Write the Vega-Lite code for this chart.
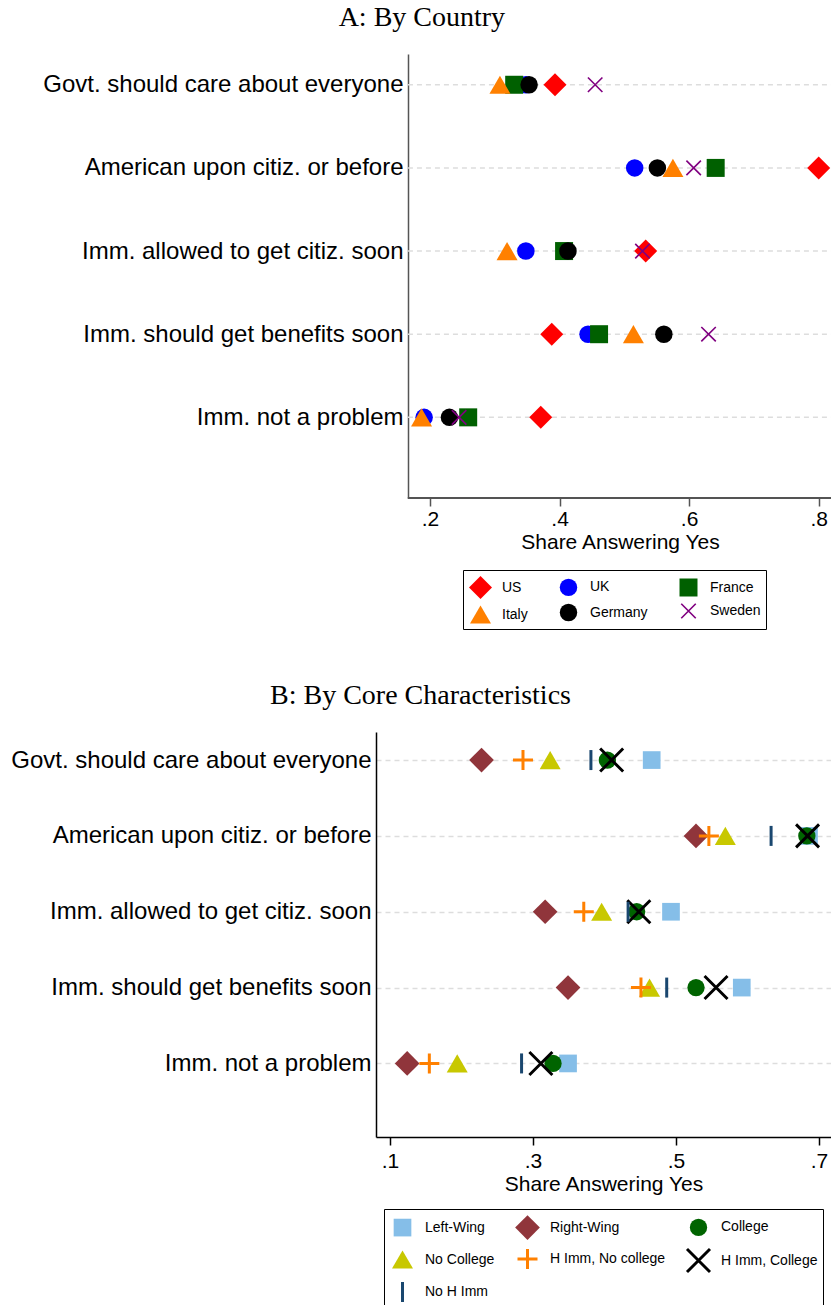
{
  "$schema": "https://vega.github.io/schema/vega-lite/v6.json",
  "background": "white",
  "padding": {"left": 10, "top": 4, "right": 0, "bottom": 0},
  "spacing": 52,
  "datasets": {
    "questions": [
      {"question": "Govt. should care about everyone", "q": 1},
      {"question": "American upon citiz. or before", "q": 2},
      {"question": "Imm. allowed to get citiz. soon", "q": 3},
      {"question": "Imm. should get benefits soon", "q": 4},
      {"question": "Imm. not a problem", "q": 5}
    ],
    "countries": [
      {"question": "Govt. should care about everyone", "q": 1, "country": "US", "share": 0.393},
      {"question": "American upon citiz. or before", "q": 2, "country": "US", "share": 0.800},
      {"question": "Imm. allowed to get citiz. soon", "q": 3, "country": "US", "share": 0.533},
      {"question": "Imm. should get benefits soon", "q": 4, "country": "US", "share": 0.388},
      {"question": "Imm. not a problem", "q": 5, "country": "US", "share": 0.371},
      {"question": "Govt. should care about everyone", "q": 1, "country": "UK", "share": 0.348},
      {"question": "American upon citiz. or before", "q": 2, "country": "UK", "share": 0.516},
      {"question": "Imm. allowed to get citiz. soon", "q": 3, "country": "UK", "share": 0.348},
      {"question": "Imm. should get benefits soon", "q": 4, "country": "UK", "share": 0.444},
      {"question": "Imm. not a problem", "q": 5, "country": "UK", "share": 0.191},
      {"question": "Govt. should care about everyone", "q": 1, "country": "France", "share": 0.330},
      {"question": "American upon citiz. or before", "q": 2, "country": "France", "share": 0.641},
      {"question": "Imm. allowed to get citiz. soon", "q": 3, "country": "France", "share": 0.407},
      {"question": "Imm. should get benefits soon", "q": 4, "country": "France", "share": 0.461},
      {"question": "Imm. not a problem", "q": 5, "country": "France", "share": 0.259},
      {"question": "Govt. should care about everyone", "q": 1, "country": "Italy", "share": 0.308},
      {"question": "American upon citiz. or before", "q": 2, "country": "Italy", "share": 0.575},
      {"question": "Imm. allowed to get citiz. soon", "q": 3, "country": "Italy", "share": 0.319},
      {"question": "Imm. should get benefits soon", "q": 4, "country": "Italy", "share": 0.514},
      {"question": "Imm. not a problem", "q": 5, "country": "Italy", "share": 0.187},
      {"question": "Govt. should care about everyone", "q": 1, "country": "Germany", "share": 0.353},
      {"question": "American upon citiz. or before", "q": 2, "country": "Germany", "share": 0.551},
      {"question": "Imm. allowed to get citiz. soon", "q": 3, "country": "Germany", "share": 0.413},
      {"question": "Imm. should get benefits soon", "q": 4, "country": "Germany", "share": 0.561},
      {"question": "Imm. not a problem", "q": 5, "country": "Germany", "share": 0.230},
      {"question": "Govt. should care about everyone", "q": 1, "country": "Sweden", "share": 0.455},
      {"question": "American upon citiz. or before", "q": 2, "country": "Sweden", "share": 0.607},
      {"question": "Imm. allowed to get citiz. soon", "q": 3, "country": "Sweden", "share": 0.528},
      {"question": "Imm. should get benefits soon", "q": 4, "country": "Sweden", "share": 0.630},
      {"question": "Imm. not a problem", "q": 5, "country": "Sweden", "share": 0.245}
    ],
    "groups": [
      {"question": "Govt. should care about everyone", "q": 1, "group": "Left-Wing", "share": 0.466},
      {"question": "American upon citiz. or before", "q": 2, "group": "Left-Wing", "share": 0.686},
      {"question": "Imm. allowed to get citiz. soon", "q": 3, "group": "Left-Wing", "share": 0.493},
      {"question": "Imm. should get benefits soon", "q": 4, "group": "Left-Wing", "share": 0.592},
      {"question": "Imm. not a problem", "q": 5, "group": "Left-Wing", "share": 0.349},
      {"question": "Govt. should care about everyone", "q": 1, "group": "Right-Wing", "share": 0.228},
      {"question": "American upon citiz. or before", "q": 2, "group": "Right-Wing", "share": 0.528},
      {"question": "Imm. allowed to get citiz. soon", "q": 3, "group": "Right-Wing", "share": 0.317},
      {"question": "Imm. should get benefits soon", "q": 4, "group": "Right-Wing", "share": 0.349},
      {"question": "Imm. not a problem", "q": 5, "group": "Right-Wing", "share": 0.124},
      {"question": "Govt. should care about everyone", "q": 1, "group": "College", "share": 0.404},
      {"question": "American upon citiz. or before", "q": 2, "group": "College", "share": 0.683},
      {"question": "Imm. allowed to get citiz. soon", "q": 3, "group": "College", "share": 0.445},
      {"question": "Imm. should get benefits soon", "q": 4, "group": "College", "share": 0.528},
      {"question": "Imm. not a problem", "q": 5, "group": "College", "share": 0.328},
      {"question": "Govt. should care about everyone", "q": 1, "group": "No College", "share": 0.324},
      {"question": "American upon citiz. or before", "q": 2, "group": "No College", "share": 0.569},
      {"question": "Imm. allowed to get citiz. soon", "q": 3, "group": "No College", "share": 0.396},
      {"question": "Imm. should get benefits soon", "q": 4, "group": "No College", "share": 0.463},
      {"question": "Imm. not a problem", "q": 5, "group": "No College", "share": 0.194},
      {"question": "Govt. should care about everyone", "q": 1, "group": "H Imm, No college", "share": 0.286},
      {"question": "American upon citiz. or before", "q": 2, "group": "H Imm, No college", "share": 0.546},
      {"question": "Imm. allowed to get citiz. soon", "q": 3, "group": "H Imm, No college", "share": 0.371},
      {"question": "Imm. should get benefits soon", "q": 4, "group": "H Imm, No college", "share": 0.451},
      {"question": "Imm. not a problem", "q": 5, "group": "H Imm, No college", "share": 0.155},
      {"question": "Govt. should care about everyone", "q": 1, "group": "H Imm, College", "share": 0.410},
      {"question": "American upon citiz. or before", "q": 2, "group": "H Imm, College", "share": 0.684},
      {"question": "Imm. allowed to get citiz. soon", "q": 3, "group": "H Imm, College", "share": 0.448},
      {"question": "Imm. should get benefits soon", "q": 4, "group": "H Imm, College", "share": 0.556},
      {"question": "Imm. not a problem", "q": 5, "group": "H Imm, College", "share": 0.311},
      {"question": "Govt. should care about everyone", "q": 1, "group": "No H Imm", "share": 0.381},
      {"question": "American upon citiz. or before", "q": 2, "group": "No H Imm", "share": 0.633},
      {"question": "Imm. allowed to get citiz. soon", "q": 3, "group": "No H Imm", "share": 0.433},
      {"question": "Imm. should get benefits soon", "q": 4, "group": "No H Imm", "share": 0.487},
      {"question": "Imm. not a problem", "q": 5, "group": "No H Imm", "share": 0.284}
    ]
  },
  "vconcat": [
    {
      "title": {"text": "A: By Country", "font": "Liberation Serif", "fontSize": 28, "fontWeight": "normal", "anchor": "middle", "frame": "bounds", "offset": 22, "dx": -15, "color": "black"},
      "width": 455,
      "height": 444,
      "layer": [
        {
          "data": {"name": "questions"},
          "mark": {"type": "rule", "strokeDash": [5, 4], "color": "#DDDDDD", "strokeWidth": 1.5},
          "encoding": {
            "y": {"field": "q", "type": "quantitative", "axis": {"title": null}},
            "x": {"datum": 0.166, "type": "quantitative"},
            "x2": {"datum": 0.819}
          }
        },
        {
          "data": {"name": "questions"},
          "mark": {"type": "rule", "color": "#555555", "strokeWidth": 1.5},
          "encoding": {
            "y": {"datum": 5.97, "type": "quantitative", "axis": {"title": null}},
            "x": {"datum": 0.166, "type": "quantitative"},
            "x2": {"datum": 0.819}
          }
        },
        {
          "data": {"name": "countries"},
          "mark": {"type": "point", "filled": true, "opacity": 1},
          "encoding": {
            "y": {
              "field": "q", "type": "quantitative",
              "scale": {"domain": [0.63, 5.97], "reverse": true, "nice": false, "zero": false},
              "axis": {"values": [1, 2, 3, 4, 5], "title": null, "ticks": false, "domainColor": "#555555", "domainWidth": 1.5, "offset": -32,
                "labelExpr": "['', 'Govt. should care about everyone', 'American upon citiz. or before', 'Imm. allowed to get citiz. soon', 'Imm. should get benefits soon', 'Imm. not a problem'][round(datum.value)]",
                "labelFont": "Liberation Sans", "labelFontSize": 24, "labelColor": "black", "labelPadding": 5, "labelLimit": 1000, "minExtent": 366, "maxExtent": 366,
                "grid": false}
            },
            "x": {
              "field": "share", "type": "quantitative",
              "scale": {"domain": [0.1167, 0.819], "nice": false, "zero": false},
              "axis": {"values": [0.2, 0.4, 0.6, 0.8], "labelExpr": "slice(format(datum.value, '.1f'), 1)", "grid": false, "domain": false,
                "tickColor": "#555555", "tickSize": 8, "tickWidth": 1.5,
                "labelFont": "Liberation Sans", "labelFontSize": 21, "labelColor": "black", "labelPadding": 2,
                "title": "Share Answering Yes", "titleX": 244, "titleAlign": "center", "titleFont": "Liberation Sans", "titleFontSize": 21, "titleFontWeight": "normal", "titleColor": "black", "titlePadding": 2}
            },
            "color": {
              "field": "country", "type": "nominal",
              "scale": {"domain": ["US", "UK", "France", "Italy", "Germany", "Sweden"], "range": ["#FF0000", "#0000FF", "#006000", "#FF8000", "#000000", "#800080"]},
              "legend": {"orient": "none", "legendX": 87, "legendY": 516, "direction": "horizontal", "columns": 3, "columnPadding": 28, "rowPadding": 4, "padding": 5,
                "strokeColor": "black", "fillColor": "white", "labelFont": "Liberation Sans", "labelFontSize": 14, "labelColor": "black", "labelOffset": 9, "labelLimit": 300, "title": null}
            },
            "shape": {
              "field": "country", "type": "nominal",
              "scale": {"domain": ["US", "UK", "France", "Italy", "Germany", "Sweden"], "range": ["diamond", "circle", "square", "triangle-up", "circle", "M -0.92 -1.08 L 1.08 0.92 L 0.92 1.08 L -1.08 -0.92 Z M -1.08 0.92 L 0.92 -1.08 L 1.08 -0.92 L -0.92 1.08 Z"]}
            },
            "size": {
              "field": "country", "type": "ordinal",
              "scale": {"type": "ordinal", "domain": ["US", "UK", "France", "Italy", "Germany", "Sweden"], "range": [529, 306, 324, 441, 306, 210]}
            }
          }
        }
      ]
    },
    {
      "title": {"text": "B: By Core Characteristics", "font": "Liberation Serif", "fontSize": 28, "fontWeight": "normal", "anchor": "middle", "frame": "bounds", "offset": 22, "color": "black"},
      "width": 455,
      "height": 405,
      "data": {"name": "groups"},
      "mark": {"type": "point", "filled": true, "opacity": 1},
      "encoding": {
        "x": {
          "field": "share", "type": "quantitative",
          "scale": {"domain": [0.0804, 0.7168], "nice": false, "zero": false},
          "axis": {"values": [0.1, 0.3, 0.5, 0.7], "labelExpr": "slice(format(datum.value, '.1f'), 1)", "grid": false,
            "domainColor": "#000000", "tickColor": "#000000", "tickSize": 8, "domainWidth": 1.5, "tickWidth": 1.5,
            "labelFont": "Liberation Sans", "labelFontSize": 21, "labelColor": "black", "labelPadding": 5,
            "title": "Share Answering Yes", "titleFont": "Liberation Sans", "titleFontSize": 21, "titleFontWeight": "normal", "titleColor": "black", "titlePadding": 2}
        },
        "y": {
          "field": "q", "type": "quantitative",
          "scale": {"domain": [0.63, 5.97], "reverse": true, "nice": false, "zero": false},
          "axis": {"values": [1, 2, 3, 4, 5], "title": null, "ticks": false, "domainColor": "#000000", "domainWidth": 1.5,
            "labelExpr": "['', 'Govt. should care about everyone', 'American upon citiz. or before', 'Imm. allowed to get citiz. soon', 'Imm. should get benefits soon', 'Imm. not a problem'][round(datum.value)]",
            "labelFont": "Liberation Sans", "labelFontSize": 24, "labelColor": "black", "labelPadding": 5, "labelLimit": 1000, "minExtent": 366, "maxExtent": 366,
            "grid": true, "gridDash": [5, 4], "gridColor": "#DDDDDD", "gridWidth": 1.5}
        },
        "color": {
          "field": "group", "type": "nominal",
          "scale": {"domain": ["Left-Wing", "Right-Wing", "College", "No College", "H Imm, No college", "H Imm, College", "No H Imm"], "range": ["#85BEE8", "#90353B", "#006400", "#C8C800", "#FF8000", "#000000", "#1A476F"]},
          "legend": {"orient": "none", "legendX": 8, "legendY": 477, "direction": "horizontal", "columns": 3, "columnPadding": 19, "rowPadding": 7, "padding": 5,
            "strokeColor": "black", "fillColor": "white", "labelFont": "Liberation Sans", "labelFontSize": 14, "labelColor": "black", "labelOffset": 9, "labelLimit": 300, "title": null}
        },
        "shape": {
          "field": "group", "type": "nominal",
          "scale": {"domain": ["Left-Wing", "Right-Wing", "College", "No College", "H Imm, No college", "H Imm, College", "No H Imm"],
            "range": ["square", "diamond", "circle", "triangle-up",
              "M -1 -0.15 L -0.15 -0.15 L -0.15 -1 L 0.15 -1 L 0.15 -0.15 L 1 -0.15 L 1 0.15 L 0.15 0.15 L 0.15 1 L -0.15 1 L -0.15 0.15 L -1 0.15 Z",
              "M -0.91 -1.09 L 1.09 0.91 L 0.91 1.09 L -1.09 -0.91 Z M -1.09 0.91 L 0.91 -1.09 L 1.09 -0.91 L -0.91 1.09 Z",
              "M -0.15 -1 L 0.15 -1 L 0.15 1 L -0.15 1 Z"]}
        },
        "size": {
          "field": "group", "type": "ordinal",
          "scale": {"type": "ordinal", "domain": ["Left-Wing", "Right-Wing", "College", "No College", "H Imm, No college", "H Imm, College", "No H Imm"], "range": [313, 610, 300, 441, 400, 529, 400]}
        }
      }
    }
  ],
  "resolve": {
    "scale": {"x": "independent", "y": "independent", "color": "independent", "shape": "independent", "size": "independent"},
    "legend": {"color": "independent", "shape": "independent", "size": "independent"}
  },
  "config": {
    "view": {"stroke": null}
  }
}
